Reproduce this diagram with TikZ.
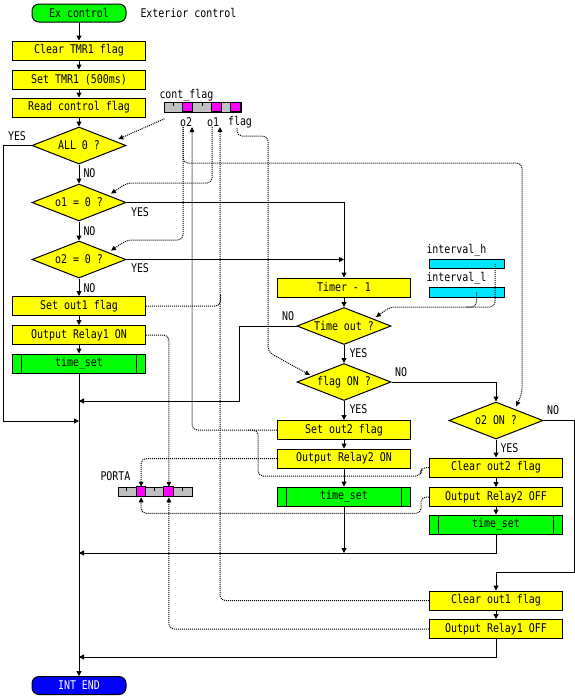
\documentclass[tikz,border=0pt]{standalone}
\usepackage{fontspec}
\setmainfont[FakeStretch=0.83]{DejaVu Sans Mono}
\usetikzlibrary{shapes.geometric,positioning,calc,arrows.meta}
\definecolor{boxyellow}{RGB}{255,255,0}
\definecolor{boxgreen}{RGB}{0,255,0}
\definecolor{endblue}{RGB}{0,0,255}
\definecolor{bitgray}{RGB}{192,192,192}
\definecolor{bitmag}{RGB}{255,0,255}
\definecolor{regcyan}{RGB}{0,230,255}
\begin{document}
\begin{tikzpicture}[x=1pt, y=-1pt, node distance=29pt, line width=1pt,
        every node/.style={font=\fontsize{12}{12}\selectfont, inner sep=0pt},
        proc/.style={draw, fill=boxyellow, minimum width=133pt, minimum height=19pt},
        sub/.style={proc, fill=boxgreen, path picture={
            \draw ([xshift=9pt]path picture bounding box.north west) -- ([xshift=9pt]path picture bounding box.south west);
            \draw ([xshift=-9pt]path picture bounding box.north east) -- ([xshift=-9pt]path picture bounding box.south east);}},
        dec/.style={diamond, draw, fill=boxyellow, aspect=2.5, minimum width=94pt, minimum height=37pt},
        term/.style={draw, rounded corners=7pt, minimum width=94pt, minimum height=18pt},
        reg/.style={draw, minimum height=9.5pt},
        flow/.style={-{Triangle[length=5pt,width=5pt]}},
        data/.style={dash pattern=on 1pt off 1pt, rounded corners=5pt},
        dtip/.style={-{Triangle[length=5pt,width=4.5pt]}}]
    \useasboundingbox (0,0) rectangle (574,697);
    % main column
    \node[term, fill=boxgreen] (start) at (79,13) {Ex control};
    \node[anchor=west] (ext) at (140,13) {Exterior control};
    \node[proc] (clr) [node distance=37.5pt, below of=start] {Clear TMR1 flag};
    \node[proc] (tmr) [below of=clr] {Set TMR1 (500ms)};
    \node[proc] (rd) [node distance=28pt, below of=tmr] {Read control flag};
    \node[dec] (all) [node distance=38pt, below of=rd] {ALL 0 ?};
    \node[dec] (o1z) [node distance=57pt, below of=all] {o1 = 0 ?};
    \node[dec] (o2z) [node distance=57pt, below of=o1z] {o2 = 0 ?};
    \node[proc] (so1) [node distance=46.5pt, below of=o2z] {Set out1 flag};
    \node[proc] (r1on) [below of=so1] {Output Relay1 ON};
    \node[sub] (ts1) [node distance=28.5pt, below of=r1on] {time\_set};
    \node[term, fill=endblue, text=white] (end) at (79,685.5) {INT END};
    % timer column
    \node[proc] (dec) at (344,287.5) {Timer - 1};
    \node[dec] (tout) [node distance=38.5pt, below of=dec] {Time out ?};
    \node[dec] (fon) [node distance=56pt, below of=tout] {flag ON ?};
    \node[proc] (so2) [node distance=48pt, below of=fon] {Set out2 flag};
    \node[proc] (r2on) [node distance=28.5pt, below of=so2] {Output Relay2 ON};
    \node[sub] (ts2) [node distance=38pt, below of=r2on] {time\_set};
    % off column
    \node[dec] (o2on) at (496,420.5) {o2 ON ?};
    \node[proc] (co2) [node distance=47pt, below of=o2on] {Clear out2 flag};
    \node[proc] (r2off) [node distance=29.5pt, below of=co2] {Output Relay2 OFF};
    \node[sub] (ts3) [node distance=27.5pt, below of=r2off] {time\_set};
    \node[proc] (co1) [node distance=76pt, below of=ts3] {Clear out1 flag};
    \node[proc] (r1off) [node distance=28.5pt, below of=co1] {Output Relay1 OFF};
    % registers
    \node[anchor=west] (cfl) at (159,95) {cont\_flag};
    \node[reg, fill=bitgray, minimum width=77pt] (cf) at (202.5,107.5) {};
    \foreach \i in {2,5,7} \draw[fill=bitmag] ($(cf.north west)+(\i*9.625,0)$) rectangle ++(9.625,9.5);
    \foreach \i in {1,4} \draw ($(cf.north west)+(\i*9.625,0)$) -- ++(0,4);
    \node (lo2) at (186,122) {o2};
    \node (lo1) at (213,122) {o1};
    \node (lfl) at (240,122) {flag};
    \node[anchor=west] (ihl) at (426,250) {interval\_h};
    \node[reg, fill=regcyan, minimum width=75pt] (ih) at (466.5,264) {};
    \node[anchor=west] (ill) at (426,278) {interval\_l};
    \node[reg, fill=regcyan, minimum width=75pt] (il) at (466.5,292.5) {};
    \node[anchor=west] (pal) at (100,476) {PORTA};
    \node[reg, fill=bitgray, minimum width=74pt] (pa) at (155,492) {};
    \foreach \i in {2,5} \draw[fill=bitmag] ($(pa.north west)+(\i*9.25,0)$) rectangle ++(9.25,9.5);
    \foreach \i in {1,4,7} \draw ($(pa.north west)+(\i*9.25,0)$) -- ++(0,4);
    % branch labels
    \node (yall) at (17,136) {YES};
    \node[anchor=west] (nall) at (83,173) {NO};
    \node (yo1) at (140,212) {YES};
    \node[anchor=west] (no1) at (83,231) {NO};
    \node (yo2) at (140,268) {YES};
    \node[anchor=west] (no2) at (83,288) {NO};
    \node (ntout) at (288,316) {NO};
    \node[anchor=west] (ytout) at (349,353) {YES};
    \node (nfon) at (401,372) {NO};
    \node[anchor=west] (yfon) at (349,409) {YES};
    \node (no2on) at (553,410) {NO};
    \node[anchor=west] (yo2on) at (500,448) {YES};
    % joins
    \coordinate (j1) at (79,401);
    \coordinate (j2) at (79,421);
    \coordinate (j3) at (79,553);
    \coordinate (j4) at (79,657);
    \coordinate (j5) at (496,572);
    % flow
    \draw[flow] (start) -- (clr);
    \draw[flow] (clr) -- (tmr);
    \draw[flow] (tmr) -- (rd);
    \draw[flow] (rd) -- (all);
    \draw[flow] (all) -- (o1z);
    \draw[flow] (o1z) -- (o2z);
    \draw[flow] (o2z) -- (so1);
    \draw[flow] (so1) -- (r1on);
    \draw[flow] (r1on) -- (ts1);
    \draw[flow] (ts1) -- (end);
    \draw[flow] (all.west) -- ++(-28.5,0) |- (j2);
    \draw[flow] (o1z.east) -| (dec);
    \draw[flow] (o2z.east) -- (o2z.east -| dec.center);
    \draw[flow] (dec) -- (tout);
    \draw[flow] (tout) -- (fon);
    \draw[flow] (fon) -- (so2);
    \draw[flow] (so2) -- (r2on);
    \draw[flow] (r2on) -- (ts2);
    \draw[flow] (tout.west) -- ++(-57,0) |- (j1);
    \draw[flow] (fon.east) -| (o2on);
    \draw[flow] (o2on) -- (co2);
    \draw[flow] (co2) -- (r2off);
    \draw[flow] (r2off) -- (ts3);
    \draw[flow] (o2on.east) -- ++(31,0) |- (j5) -- (co1);
    \draw[flow] (co1) -- (r1off);
    \draw[flow] (ts2) -- (ts2 |- j3);
    \draw[flow] (ts3) |- (j3);
    \draw[flow] (r1off) |- (j4);
    % data lines
    \draw[data, dtip, shorten >=4pt] ([shift={(1,6)}]cf.south west) -- ($(all.east)!0.25!(all.north)$);
    \draw[data, dtip, shorten >=3pt] ([xshift=-3pt]lo2.south) |- (522,163) -- (522,393) -- ($(o2on.north)!0.4!(o2on.east)$);
    \draw[data, dtip, shorten >=3pt] ([xshift=-3pt]lo2.south) |- (127,240) -- ($(o2z.north)!0.62!(o2z.east)$);
    \draw[data, dtip, shorten >=3pt] ([xshift=-1pt]lo1.south) |- (127,183) -- ($(o1z.north)!0.62!(o1z.east)$);
    \draw[data, dtip, shorten >=2pt] ([xshift=-3pt]lfl.south) |- (268,136) -- (268,352) -- ($(fon.west)!0.32!(fon.north)$);
    \draw[data] (so1.east) -- ++(74.5,0) -- ++(0,-12);
    \draw[data, dtip] (co1.west) -| ([xshift=7pt]lo1.south);
    \draw[data, dtip] (so2.west) -| ([xshift=6pt]lo2.south);
    \draw[data] (co2.west) -- ++(-8,0) |- (258,476) -- (258,430) -- (248,430);
    \draw[data, dtip] (r2on.west) -| ([xshift=-13.9pt]pa.north);
    \draw[data, dtip] (r2off.west) -- ++(-8,0) |- ([shift={(-13.9,16)}]pa.south) -- ([xshift=-13.9pt]pa.south);
    \draw[data, dtip] (r1on.east) -| ([xshift=13.9pt]pa.north);
    \draw[data, dtip] (r1off.west) -| ([xshift=13.9pt]pa.south);
    \draw[data, dtip, shorten >=3pt] ([xshift=28.5pt]ih.center) |- (390,307) -- ($(tout.north)!0.62!(tout.east)$);
    \draw[data] ([xshift=10pt]il.center) |- (466,307);
\end{tikzpicture}
\end{document}
